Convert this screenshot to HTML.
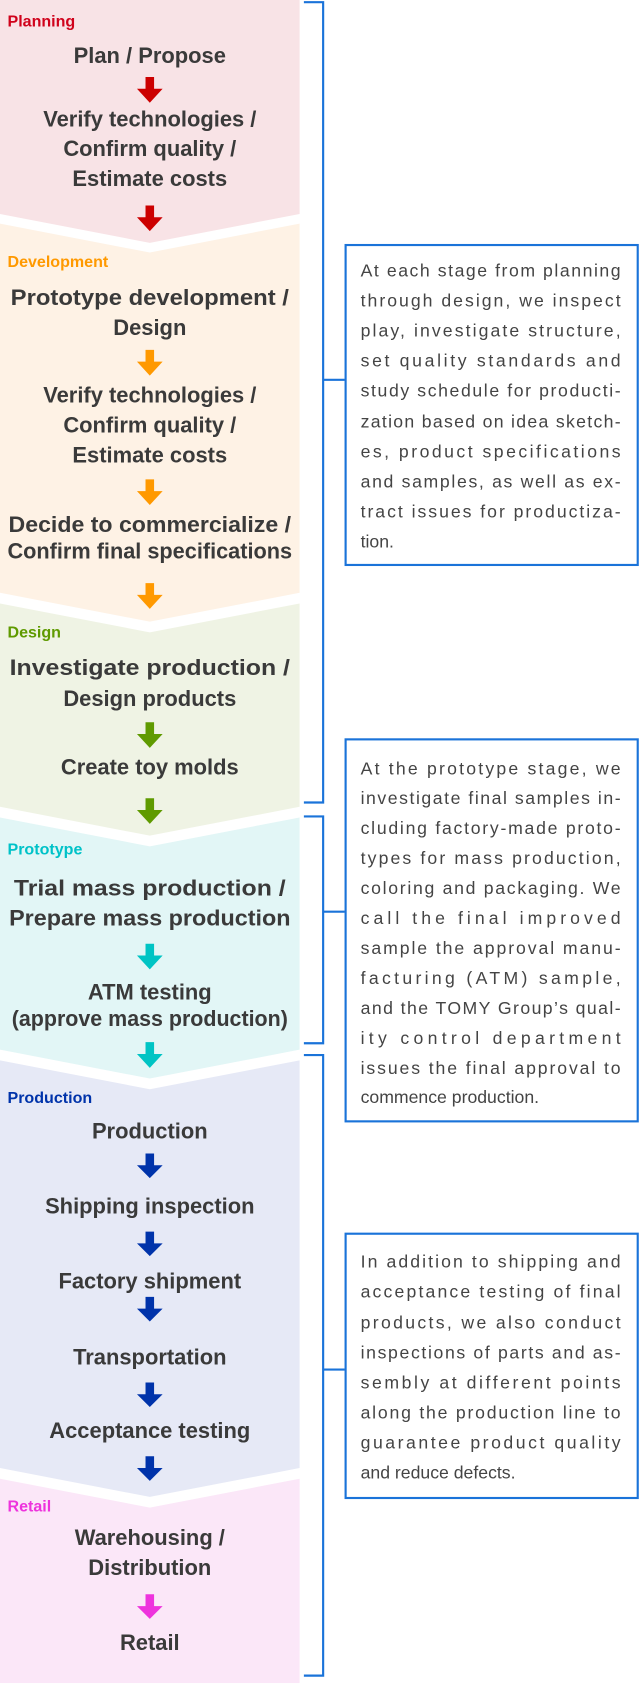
<!DOCTYPE html>
<html><head><meta charset="utf-8"><style>
html,body{margin:0;padding:0;background:#fff;}
#wrap{width:600px;height:1573px;transform:scale(1.07);transform-origin:0 0;}
svg text{font-family:"Liberation Sans",sans-serif;}
.s{font-size:20.5px;font-weight:bold;fill:#3a3a3a;text-anchor:middle;}
.l{font-size:15px;font-weight:bold;}
.b{font-size:16.5px;fill:#444;}
</style></head><body><div id="wrap">
<svg width="600" height="1573" viewBox="0 0 600 1573" xmlns="http://www.w3.org/2000/svg" dominant-baseline="central">
<polygon points="0,0 280,0 280,200 140,227 0,200" fill="#f8e3e6"/>
<polygon points="0,209 140,236 280,209 280,554 140,581 0,554" fill="#fef2e5"/>
<polygon points="0,564 140,591 280,564 280,754 140,781 0,754" fill="#eff3e4"/>
<polygon points="0,764 140,791 280,764 280,981 140,1008 0,981" fill="#e2f6f6"/>
<polygon points="0,991 140,1018 280,991 280,1372 140,1399 0,1372" fill="#e6e9f6"/>
<polygon points="0,1382 140,1409 280,1382 280,1573 0,1573" fill="#fbe7f8"/>
<text class="l" x="7" y="20" fill="#d0021b">Planning</text>
<text class="l" x="7" y="245" fill="#ff9900">Development</text>
<text class="l" x="7" y="591" fill="#5f9a00">Design</text>
<text class="l" x="7" y="794" fill="#00c2c8">Prototype</text>
<text class="l" x="7" y="1026" fill="#0033aa">Production</text>
<text class="l" x="7" y="1408" fill="#ee33dd">Retail</text>
<text class="s" x="140" y="52">Plan / Propose</text>
<text class="s" x="140" y="111">Verify technologies /</text>
<text class="s" x="140" y="139">Confirm quality /</text>
<text class="s" x="140" y="167">Estimate costs</text>
<text class="s" x="140" y="278" textLength="260" lengthAdjust="spacingAndGlyphs">Prototype development /</text>
<text class="s" x="140" y="306">Design</text>
<text class="s" x="140" y="369">Verify technologies /</text>
<text class="s" x="140" y="397">Confirm quality /</text>
<text class="s" x="140" y="425">Estimate costs</text>
<text class="s" x="140" y="490" textLength="264" lengthAdjust="spacingAndGlyphs">Decide to commercialize /</text>
<text class="s" x="140" y="515" textLength="266" lengthAdjust="spacingAndGlyphs">Confirm final specifications</text>
<text class="s" x="140" y="624" textLength="262" lengthAdjust="spacingAndGlyphs">Investigate production /</text>
<text class="s" x="140" y="653">Design products</text>
<text class="s" x="140" y="717">Create toy molds</text>
<text class="s" x="140" y="830" textLength="254" lengthAdjust="spacingAndGlyphs">Trial mass production /</text>
<text class="s" x="140" y="858" textLength="263" lengthAdjust="spacingAndGlyphs">Prepare mass production</text>
<text class="s" x="140" y="927">ATM testing</text>
<text class="s" x="140" y="952" textLength="258" lengthAdjust="spacingAndGlyphs">(approve mass production)</text>
<text class="s" x="140" y="1057">Production</text>
<text class="s" x="140" y="1127">Shipping inspection</text>
<text class="s" x="140" y="1197">Factory shipment</text>
<text class="s" x="140" y="1268">Transportation</text>
<text class="s" x="140" y="1337">Acceptance testing</text>
<text class="s" x="140" y="1437">Warehousing /</text>
<text class="s" x="140" y="1465">Distribution</text>
<text class="s" x="140" y="1535">Retail</text>
<g>
<polygon fill="#cc0000" points="136,72 144,72 144,83 152,83 140,96 128,83 136,83"/>
<polygon fill="#cc0000" points="136,192 144,192 144,203 152,203 140,216 128,203 136,203"/>
<polygon fill="#ff9900" points="136,327 144,327 144,338 152,338 140,351 128,338 136,338"/>
<polygon fill="#ff9900" points="136,448 144,448 144,459 152,459 140,472 128,459 136,459"/>
<polygon fill="#ff9900" points="136,545 144,545 144,556 152,556 140,569 128,556 136,556"/>
<polygon fill="#5f9a00" points="136,675 144,675 144,686 152,686 140,699 128,686 136,686"/>
<polygon fill="#5f9a00" points="136,746 144,746 144,757 152,757 140,770 128,757 136,757"/>
<polygon fill="#00c4c4" points="136,882 144,882 144,893 152,893 140,906 128,893 136,893"/>
<polygon fill="#00c4c4" points="136,974 144,974 144,985 152,985 140,998 128,985 136,985"/>
<polygon fill="#0033aa" points="136,1078 144,1078 144,1089 152,1089 140,1101 128,1089 136,1089"/>
<polygon fill="#0033aa" points="136,1151 144,1151 144,1162 152,1162 140,1174 128,1162 136,1162"/>
<polygon fill="#0033aa" points="136,1212 144,1212 144,1223 152,1223 140,1235 128,1223 136,1223"/>
<polygon fill="#0033aa" points="136,1292 144,1292 144,1303 152,1303 140,1315 128,1303 136,1303"/>
<polygon fill="#0033aa" points="136,1361 144,1361 144,1372 152,1372 140,1384 128,1372 136,1372"/>
<polygon fill="#ee33dd" points="136,1490 144,1490 144,1501 152,1501 140,1513 128,1501 136,1501"/>
</g>
<g fill="none" stroke="#1a73d9" stroke-width="2">
<polyline points="284,2 302,2 302,750 284,750"/>
<line x1="302" y1="355" x2="322" y2="355"/>
<polyline points="284,763 302,763 302,975 284,975"/>
<line x1="302" y1="852" x2="322" y2="852"/>
<polyline points="284,986 302,986 302,1566 284,1566"/>
<line x1="302" y1="1280" x2="322" y2="1280"/>
<rect x="323" y="229" width="273" height="299"/>
<rect x="323" y="691" width="273" height="357"/>
<rect x="323" y="1153" width="273" height="247"/>
</g>
<g class="b">
<text class="b" x="337" y="253" textLength="243" lengthAdjust="spacing">At each stage from planning</text>
<text class="b" x="337" y="281" textLength="243" lengthAdjust="spacing">through design, we inspect</text>
<text class="b" x="337" y="309" textLength="243" lengthAdjust="spacing">play, investigate structure,</text>
<text class="b" x="337" y="337" textLength="243" lengthAdjust="spacing">set quality standards and</text>
<text class="b" x="337" y="365" textLength="243" lengthAdjust="spacing">study schedule for producti-</text>
<text class="b" x="337" y="394" textLength="243" lengthAdjust="spacing">zation based on idea sketch-</text>
<text class="b" x="337" y="422" textLength="243" lengthAdjust="spacing">es, product specifications</text>
<text class="b" x="337" y="450" textLength="243" lengthAdjust="spacing">and samples, as well as ex-</text>
<text class="b" x="337" y="478" textLength="243" lengthAdjust="spacing">tract issues for productiza-</text>
<text class="b" x="337" y="506">tion.</text>

<text class="b" x="337" y="718" textLength="243" lengthAdjust="spacing">At the prototype stage, we</text>
<text class="b" x="337" y="746" textLength="243" lengthAdjust="spacing">investigate final samples in-</text>
<text class="b" x="337" y="774" textLength="243" lengthAdjust="spacing">cluding factory-made proto-</text>
<text class="b" x="337" y="802" textLength="243" lengthAdjust="spacing">types for mass production,</text>
<text class="b" x="337" y="830" textLength="243" lengthAdjust="spacing">coloring and packaging. We</text>
<text class="b" x="337" y="858" textLength="243" lengthAdjust="spacing">call the final improved</text>
<text class="b" x="337" y="886" textLength="243" lengthAdjust="spacing">sample the approval manu-</text>
<text class="b" x="337" y="914" textLength="243" lengthAdjust="spacing">facturing (ATM) sample,</text>
<text class="b" x="337" y="942" textLength="243" lengthAdjust="spacing">and the TOMY Group’s qual-</text>
<text class="b" x="337" y="970" textLength="243" lengthAdjust="spacing">ity control department</text>
<text class="b" x="337" y="998" textLength="243" lengthAdjust="spacing">issues the final approval to</text>
<text class="b" x="337" y="1025">commence production.</text>

<text class="b" x="337" y="1179" textLength="243" lengthAdjust="spacing">In addition to shipping and</text>
<text class="b" x="337" y="1207" textLength="243" lengthAdjust="spacing">acceptance testing of final</text>
<text class="b" x="337" y="1236" textLength="243" lengthAdjust="spacing">products, we also conduct</text>
<text class="b" x="337" y="1264" textLength="243" lengthAdjust="spacing">inspections of parts and as-</text>
<text class="b" x="337" y="1292" textLength="243" lengthAdjust="spacing">sembly at different points</text>
<text class="b" x="337" y="1320" textLength="243" lengthAdjust="spacing">along the production line to</text>
<text class="b" x="337" y="1348" textLength="243" lengthAdjust="spacing">guarantee product quality</text>
<text class="b" x="337" y="1376">and reduce defects.</text>
</g>
</svg>
</div></body></html>
